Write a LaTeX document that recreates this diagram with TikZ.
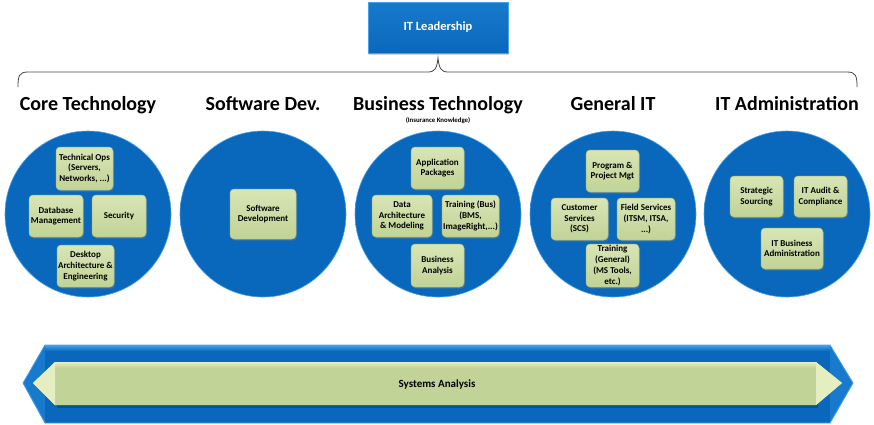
\documentclass[tikz,border=0pt]{standalone}
\usepackage{fontspec}
\setmainfont{Carlito}
\usetikzlibrary{shadows}

\definecolor{bluedeep}{RGB}{10,104,188}
\definecolor{bluemid}{RGB}{24,122,204}
\definecolor{bluerim}{RGB}{72,162,232}
\definecolor{greenhi}{RGB}{216,229,182}
\definecolor{greenlo}{RGB}{193,211,150}
\definecolor{greenrim}{RGB}{172,192,128}
\definecolor{tipgreen}{RGB}{228,238,192}
\definecolor{bracegray}{RGB}{70,70,70}

\pgfdeclareradialshading{unitshade}{\pgfpoint{0bp}{0bp}}{color(0bp)=(bluedeep); color(34bp)=(bluedeep); color(45bp)=(bluemid); color(50bp)=(bluerim)}

\tikzset{
  unit/.style={circle, minimum size=166pt, inner sep=0pt, shading=unitshade, draw=bluerim, line width=0.6pt},
  task/.style={rounded corners=4pt, top color=greenhi, bottom color=greenlo, draw=greenrim, line width=0.5pt,
    align=center, inner sep=1pt, minimum width=54pt, minimum height=42pt,
    font=\bfseries\fontsize{9}{10.7}\selectfont,
    drop shadow={opacity=0.35, shadow xshift=1pt, shadow yshift=-1.5pt}},
  head/.style={anchor=base, font=\bfseries\fontsize{20}{24}\selectfont},
}

\begin{document}
\begin{tikzpicture}[x=1pt, y=-1pt]
  \useasboundingbox (0,0) rectangle (874,424);

  % leadership and brace
  \node[rectangle, minimum width=140pt, minimum height=51pt, top color=bluemid, bottom color=bluedeep,
        draw=bluerim, line width=0.6pt, text=white, font=\bfseries\fontsize{12.5}{15}\selectfont,
        drop shadow={opacity=0.35, shadow xshift=1pt, shadow yshift=-1.5pt}] (lead) at (438,27.5) {IT Leadership};
  \coordinate (tip) at (438,58);
  \draw[bracegray, line width=0.8pt] (18,87) .. controls (18,76) and (19,72) .. (28,72) -- (428,72)
    .. controls (435,72) and (437,68) .. (tip) .. controls (439,68) and (441,72) .. (448,72) -- (847,72)
    .. controls (856,72) and (857,76) .. (857,87);

  % headings
  \node[head] (hcore) at (88,110) {Core Technology};
  \node[head] (hsoft) at (263,110) {Software Dev.};
  \node[head] (hbus) at (438,110) {Business Technology};
  \node[anchor=base, font=\bfseries\fontsize{6.8}{8}\selectfont] (hins) at (438,122.5) {(Insurance Knowledge)};
  \node[head] (hgen) at (613,110) {General IT};
  \node[head] (hadm) at (787,110) {IT Administration};

  % circles
  \node[unit] (core) at (88,214) {};
  \node[unit] (soft) at (263,214) {};
  \node[unit] (bus) at (438,214) {};
  \node[unit] (gen) at (613,214) {};
  \node[unit] (adm) at (787,214) {};

  % core technology
  \node[task, minimum width=57pt, minimum height=43pt] (ops) at (84.5,168.5) {Technical Ops\\(Servers,\\Networks, ...)};
  \node[task] (dbm) at (56,216) {Database\\Management};
  \node[task] (sec) at (119,216) {Security};
  \node[task, minimum width=57pt] (desk) at (85.5,266) {Desktop\\Architecture \&\\Engineering};

  % software dev.
  \node[task, minimum width=66pt, minimum height=50pt] (dev) at (263,214) {Software\\Development};

  % business technology
  \node[task, minimum width=53pt] (app) at (437.5,168) {Application\\Packages};
  \node[task, minimum width=60pt] (data) at (402,216) {Data\\Architecture\\\& Modeling};
  \node[task, minimum width=57pt] (trbus) at (470.5,216) {Training (Bus)\\(BMS,\\ImageRight,...)};
  \node[task, minimum width=53pt, minimum height=43pt] (ba) at (437.5,265.5) {Business\\Analysis};

  % general it
  \node[task, minimum width=53pt] (pm) at (612.5,171) {Program \&\\Project Mgt};
  \node[task, minimum width=57pt] (cs) at (579.5,219) {Customer\\Services\\(SCS)};
  \node[task, minimum width=58pt] (fs) at (646,219) {Field Services\\(ITSM, ITSA,\\...)};
  \node[task, minimum width=53pt, minimum height=43pt] (trgen) at (612.5,265.5) {Training\\(General)\\(MS Tools,\\etc.)};

  % it administration
  \node[task, minimum width=53pt, minimum height=41pt] (src) at (756.5,196.5) {Strategic\\Sourcing};
  \node[task, minimum width=53pt, minimum height=41pt] (aud) at (820.5,196.5) {IT Audit \&\\Compliance};
  \node[task, minimum width=62pt, minimum height=41pt] (bad) at (792,248.5) {IT Business\\Administration};

  % systems analysis band
  \fill[bluedeep] (23,383) -- (45,345) -- (830,345) -- (853,383) -- (830,423) -- (45,423) -- cycle;
  \fill[top color=bluerim, bottom color=bluedeep] (45,345) rectangle (830,351);
  \fill[bluemid] (23,383) -- (45,345) -- (45,423) -- cycle;
  \fill[bluemid] (830,345) -- (853,383) -- (830,423) -- cycle;
  \draw[bluerim, line width=0.8pt] (23,383) -- (45,345) -- (830,345) -- (853,383) -- (830,423) -- (45,423) -- cycle;
  \fill[bluedeep!60!black, opacity=0.5] (57,364) rectangle (818,408);
  \fill[greenlo] (33,383) -- (55,362) -- (816,362) -- (842,383) -- (816,405) -- (55,405) -- cycle;
  \fill[top color=tipgreen, bottom color=greenlo] (55,362) rectangle (816,368);
  \fill[tipgreen] (33,383) -- (55,362) -- (55,405) -- cycle;
  \fill[tipgreen] (816,362) -- (842,383) -- (816,405) -- cycle;
  \node[font=\bfseries\fontsize{11}{13}\selectfont] (sa) at (437,384) {Systems Analysis};
\end{tikzpicture}
\end{document}
